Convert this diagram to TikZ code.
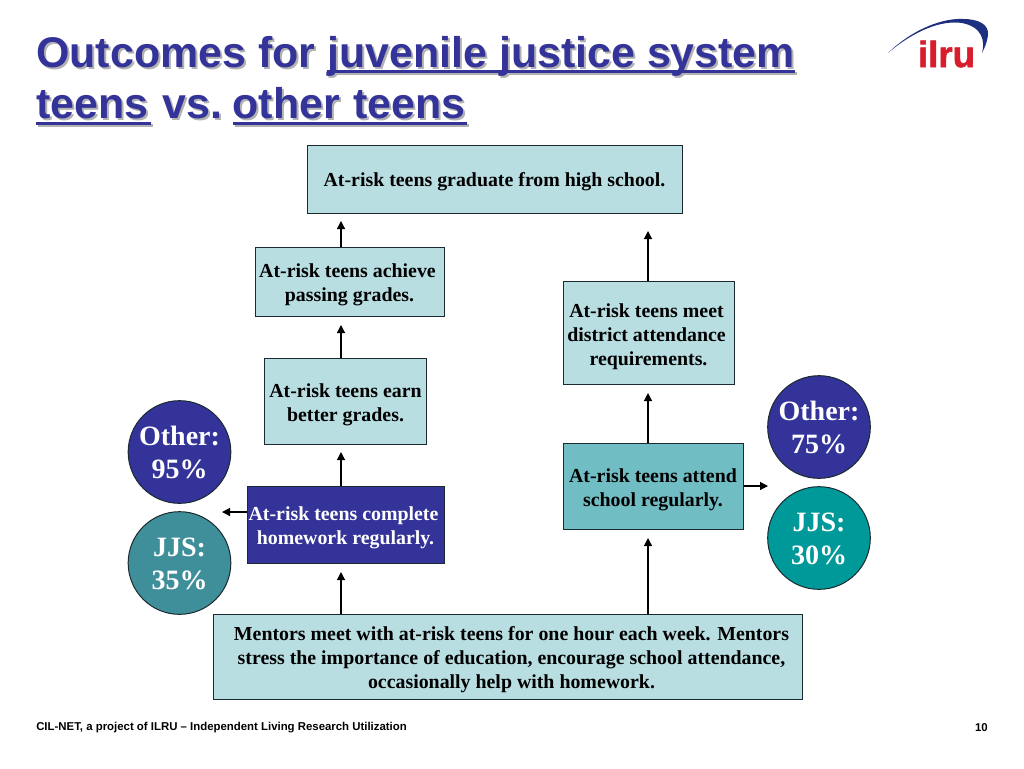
\documentclass[tikz,border=0pt]{standalone}
\usepackage{fontspec}
\setmainfont{Liberation Serif}
\newfontfamily\headfont{Liberation Sans}
\newfontfamily\logofont[FakeBold=1.5]{Liberation Sans}
\usetikzlibrary{arrows.meta}
\definecolor{navy}{HTML}{333399}
\definecolor{pale}{HTML}{B9DEE2}
\definecolor{midteal}{HTML}{70BDC4}
\definecolor{tealA}{HTML}{3F8F9B}
\definecolor{tealB}{HTML}{009999}
\definecolor{boxedge}{HTML}{1A2A30}
\definecolor{swoosh}{HTML}{1F2F7F}
\definecolor{logored}{HTML}{D81E2C}
\newlength{\ulwd}
\newcommand{\titleul}[1]{\settowidth{\ulwd}{#1}\leavevmode\rlap{\rule[-4.4pt]{\ulwd}{2.2pt}}#1}
\newcommand{\titletext}{Outcomes for \titleul{juvenile justice system}\\\titleul{teens\hspace{2pt}} vs.\hspace{-4.5pt} \titleul{other\hspace{1pt} teens\hspace{1pt}}}
\tikzset{
 x=0.75pt,y=-0.75pt,
 titlestyle/.style={anchor=north west,inner sep=0pt,align=left,font=\fontsize{32.2}{38.5}\selectfont\headfont\bfseries},
 flowbox/.style={draw=boxedge,line width=0.75pt,inner sep=0pt,align=center,text=black,font=\fontsize{14.9}{18}\selectfont\bfseries},
 drop/.style={execute at begin node={\rule{0pt}{#1pt}}},
 palebox/.style={flowbox,fill=pale},
 midbox/.style={flowbox,fill=midteal},
 navybox/.style={flowbox,fill=navy,text=white},
 statcircle/.style={circle,draw=boxedge,line width=0.75pt,inner sep=0pt,minimum size=77pt,align=center,text=white,font=\fontsize{21}{25}\selectfont\bfseries,drop=40.3},
 link/.style={line width=0.9pt,draw=black,-{Triangle[length=6pt,width=6pt]}},
 foot/.style={inner sep=0pt,font=\fontsize{8.55}{10}\selectfont\headfont\bfseries,text=black}
}
\begin{document}
\begin{tikzpicture}
\useasboundingbox (0,0) rectangle (1024,768);
% title
\node[titlestyle,text=black!30] (titleshadow) at (38,38) {\titletext};
\node[titlestyle,text=navy] (title) at (36,36) {\titletext};
% logo
\fill[swoosh] (888,53) .. controls (915,27) and (945,18) .. (963,19) .. controls (978,19) and (989,24) .. (988,35) .. controls (987,43) and (984,49) .. (982,53) .. controls (985,42) and (983,27) .. (962,23) .. controls (942,20) and (915,30) .. (888,53) -- cycle;
\node[inner sep=0pt,text=logored,font=\fontsize{27.5}{27.5}\selectfont\logofont\bfseries] (logo) at (946.5,54) {ilru};
% boxes
\node[palebox,drop=14.6,minimum width=281.25pt,minimum height=51pt] (goal) at (494.5,179) {At-risk teens graduate from high school.};
\node[palebox,drop=32.6,minimum width=141.75pt,minimum height=51.75pt] (pass) at (349.5,281.5) {At-risk teens achieve\kern3pt\\passing grades.};
\node[palebox,drop=34.1,minimum width=121.5pt,minimum height=64.5pt] (earn) at (345.5,401) {At-risk teens earn\\better grades.};
\node[navybox,drop=32.6,minimum width=147.75pt,minimum height=57.75pt] (homework) at (345.5,524.5) {At-risk teens complete\kern3pt\\homework regularly.};
\node[palebox,drop=52.1,minimum width=128.25pt,minimum height=77.25pt] (meet) at (648.5,332.5) {At-risk teens meet\kern3pt\\district attendance\kern3pt\\requirements.};
\node[midbox,drop=34.1,minimum width=135pt,minimum height=64.5pt] (attend) at (653,486) {At-risk teens attend\\school regularly.};
\node[palebox,drop=50.6,minimum width=441.75pt,minimum height=63.75pt] (mentors) at (508,656.5) {\hspace{5.25pt}Mentors meet with at-risk teens for one hour each week. Mentors\\\hspace{5.25pt}stress the importance of education, encourage school attendance,\\\hspace{5.25pt}occasionally help with homework.};
% circles
\node[statcircle,fill=navy] (otherL) at (179.5,452) {Other:\\95\%};
\node[statcircle,fill=tealA] (jjsL) at (179.5,563) {JJS:\\35\%};
\node[statcircle,fill=navy] (otherR) at (819,427) {Other:\\75\%};
\node[statcircle,fill=tealB] (jjsR) at (819,538) {JJS:\\30\%};
% free ends of connectors
\coordinate (a1) at (341,221);
\coordinate (a2) at (341,325);
\coordinate (a3) at (341,452);
\coordinate (a4) at (341,572);
\coordinate (a5) at (648,231);
\coordinate (a6) at (648,393);
\coordinate (a7) at (648,538);
\coordinate (a8) at (222,512);
\coordinate (a9) at (768,486);
% connectors
\draw[link] (pass.north -| a1) -- (a1);
\draw[link] (earn.north -| a2) -- (a2);
\draw[link] (homework.north -| a3) -- (a3);
\draw[link] (mentors.north -| a4) -- (a4);
\draw[link] (meet.north -| a5) -- (a5);
\draw[link] (attend.north -| a6) -- (a6);
\draw[link] (mentors.north -| a7) -- (a7);
\draw[link] (homework.west |- a8) -- (a8);
\draw[link] (attend.east |- a9) -- (a9);
% footer
\node[foot,anchor=west] (footL) at (36,727.5) {CIL-NET, a project of ILRU – Independent Living Research Utilization};
\node[foot,anchor=east] (footR) at (988,728) {10};
\end{tikzpicture}
\end{document}
